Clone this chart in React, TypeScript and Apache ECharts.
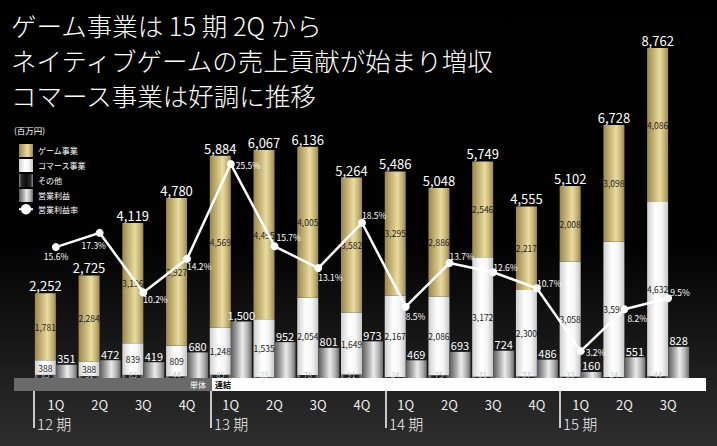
import React, { useEffect, useRef } from 'react';
import * as echarts from 'echarts';

const quarters = ['1Q', '2Q', '3Q', '4Q', '1Q', '2Q', '3Q', '4Q', '1Q', '2Q', '3Q', '4Q', '1Q', '2Q', '3Q'];
const periods = ['12 期', '13 期', '14 期', '15 期'];
const totals = [2252, 2725, 4119, 4780, 5884, 6067, 6136, 5264, 5486, 5048, 5749, 4555, 5102, 6728, 8762];
const gameSales = [1781, 2284, 3196, 3927, 4569, 4495, 4005, 3582, 3295, 2886, 2546, 2217, 2008, 3098, 4086];
const commerceSales = [388, 388, 839, 809, 1248, 1535, 2054, 1649, 2167, 2086, 3172, 2300, 3058, 3596, 4632];
const otherSales = [83, 51, 83, 44, 85, 23, 78, 91, 24, 75, 31, 37, 33, 24, 44];
const operatingProfit = [351, 472, 419, 680, 1500, 952, 801, 973, 469, 693, 724, 486, 160, 551, 828];
const operatingMargin = [15.6, 17.3, 10.2, 14.2, 25.5, 15.7, 13.1, 18.5, 8.5, 13.7, 12.6, 10.7, 3.2, 8.2, 9.5];

// label placement (style only) for the margin labels, relative to each point
const marginLabelOffsets = [
  [-12, 9], [-18, 12], [0, 7], [0, 7], [5, 1], [2, -9], [0, 9], [0, -8],
  [0, 9], [0, -7], [0, -5], [0, -5], [5, 1], [3, 9], [2, -6],
];

const hGrad = (stops: [number, string][]) => ({
  type: 'linear', x: 0, y: 0, x2: 1, y2: 0,
  colorStops: stops.map(([offset, color]) => ({ offset, color })),
});

const gold = hGrad([[0, '#9a8650'], [0.3, '#c4b173'], [0.6, '#e9dca2'], [0.82, '#c6b475'], [1, '#9c8852']]);
const white = hGrad([[0, '#cfcfcf'], [0.4, '#ffffff'], [0.7, '#f6f6f6'], [1, '#c6c6c6']]);
const dark = hGrad([[0, '#8a8a8a'], [0.18, '#2a2a2a'], [0.5, '#0c0c0c'], [0.82, '#2a2a2a'], [1, '#8a8a8a']]);
const gray = hGrad([[0, '#5a5a5a'], [0.25, '#9a9a9a'], [0.55, '#ebebeb'], [0.8, '#b2b2b2'], [1, '#6c6c6c']]);

const FONT = '"Noto Sans CJK JP", "Noto Sans", sans-serif';
const fmt = (v: number) => v.toLocaleString('en-US');

export default function App() {
  const ref = useRef<HTMLDivElement>(null);
  useEffect(() => {
    if (!ref.current) return;
    const chart = echarts.init(ref.current, null, { renderer: 'svg' });
    const BAR_W = 21;
    const sepX = [34, 211, 386, 560];
    const option: any = {
      animation: false,
      backgroundColor: {
        type: 'linear', x: 0, y: 0, x2: 0, y2: 1,
        colorStops: [
          { offset: 0, color: '#000000' },
          { offset: 0.55, color: '#020202' },
          { offset: 1, color: '#2e2e2e' },
        ],
      },
      textStyle: { fontFamily: FONT },
      title: {
        text: 'ゲーム事業は 15 期 2Q から\nネイティブゲームの売上貢献が始まり増収\nコマース事業は好調に推移',
        left: 6, top: 2,
        textStyle: { color: '#ffffff', fontSize: 25.5, fontWeight: 300, lineHeight: 35, fontFamily: FONT },
      },
      legend: {
        orient: 'vertical', left: 13, top: 139,
        itemWidth: 14, itemHeight: 13, itemGap: 2,
        textStyle: { color: '#ffffff', fontSize: 8, fontFamily: FONT },
        data: [
          { name: 'ゲーム事業', icon: 'rect' },
          { name: 'コマース事業', icon: 'rect' },
          { name: 'その他', icon: 'rect' },
          { name: '営業利益', icon: 'rect' },
          { name: '営業利益率' },
        ],
        selectedMode: false,
      },
      grid: { left: 34, right: 27, top: 48, bottom: 68 },
      xAxis: {
        type: 'category', data: quarters,
        axisLine: { show: false }, axisTick: { show: false },
        axisLabel: { color: '#eeeeee', fontSize: 13, lineHeight: 12, margin: 20, fontFamily: FONT, interval: 0 },
      },
      yAxis: [
        { type: 'value', min: 0, max: 8762, show: false, splitLine: { show: false } },
        { type: 'value', min: 0, max: 39.33, show: false, splitLine: { show: false } },
      ],
      series: [
        {
          name: 'その他', type: 'bar', stack: 'sales', data: otherSales, barWidth: BAR_W, barGap: '0%',
          itemStyle: { color: dark },
          label: { show: true, position: 'insideBottom', distance: 0, color: '#b9c2d4', fontSize: 7.5, lineHeight: 7.5 },
        },
        {
          name: 'コマース事業', type: 'bar', stack: 'sales', data: commerceSales, barWidth: BAR_W,
          itemStyle: { color: white },
          label: { show: true, position: 'inside', color: '#1a1a1a', fontSize: 8.5, lineHeight: 8.5, formatter: (p: any) => fmt(p.value) },
        },
        {
          name: 'ゲーム事業', type: 'bar', stack: 'sales', data: gameSales, barWidth: BAR_W,
          itemStyle: { color: gold },
          label: { show: true, position: 'inside', color: '#1e1e1e', fontSize: 8.5, formatter: (p: any) => fmt(p.value) },
        },
        {
          name: '合計', type: 'bar', stack: 'sales', data: totals.map(() => 0), barWidth: BAR_W,
          itemStyle: { color: 'transparent' }, silent: true,
          label: {
            show: true, position: 'top', distance: 1, color: '#ffffff', fontSize: 13,
            formatter: (p: any) => fmt(totals[p.dataIndex]),
          },
        },
        {
          name: '営業利益', type: 'bar', data: operatingProfit, barWidth: BAR_W,
          itemStyle: { color: gray },
          label: { show: true, position: 'top', distance: 1, color: '#ffffff', fontSize: 11, formatter: (p: any) => fmt(p.value) },
        },
        {
          name: '営業利益率', type: 'line', yAxisIndex: 1,
          data: operatingMargin.map((v, i) => ({
            value: v,
            label: { offset: marginLabelOffsets[i] },
          })),
          symbol: 'circle', symbolSize: 8,
          lineStyle: { color: '#ffffff', width: 2.5 },
          itemStyle: { color: '#ffffff' },
          z: 5,
          label: {
            show: true, position: 'inside', align: 'left', verticalAlign: 'middle',
            color: '#ffffff', fontSize: 8.5, lineHeight: 9, formatter: (p: any) => p.value.toFixed(1) + '%',
          },
        },
      ],
      graphic: [
        { type: 'text', left: 14, top: 126, style: { text: '(百万円)', fill: '#ffffff', fontSize: 8.5, fontFamily: FONT } },
        { type: 'rect', shape: { x: 14, y: 378, width: 198, height: 13 }, style: { fill: '#6a6a6a' }, z: 10 },
        { type: 'rect', shape: { x: 212, y: 378, width: 494, height: 13 }, style: { fill: '#ffffff' }, z: 10 },
        { type: 'text', x: 206, y: 384.5, style: { text: '単体', fill: '#ffffff', fontSize: 8, align: 'right', verticalAlign: 'middle', fontFamily: FONT }, z: 11 },
        { type: 'text', x: 215, y: 384.5, style: { text: '連結', fill: '#000000', fontSize: 8, fontWeight: 'bold', verticalAlign: 'middle', fontFamily: FONT }, z: 11 },
        ...sepX.map((x) => ({
          type: 'line', shape: { x1: x, y1: 391, x2: x, y2: 428 }, style: { stroke: '#ffffff', lineWidth: 1.5 }, z: 10,
        })),
        ...periods.map((t, i) => ({
          type: 'text', x: sepX[i] + 3, y: 423,
          style: { text: t, fill: '#eeeeee', fontSize: 15, lineHeight: 14, fontWeight: 300, verticalAlign: 'middle', fontFamily: FONT }, z: 10,
        })),
      ],
    };
    chart.setOption(option);
    return () => chart.dispose();
  }, []);
  return <div ref={ref} style={{ position: 'fixed', left: 0, top: 0, width: 717, height: 446 }} />;
}
